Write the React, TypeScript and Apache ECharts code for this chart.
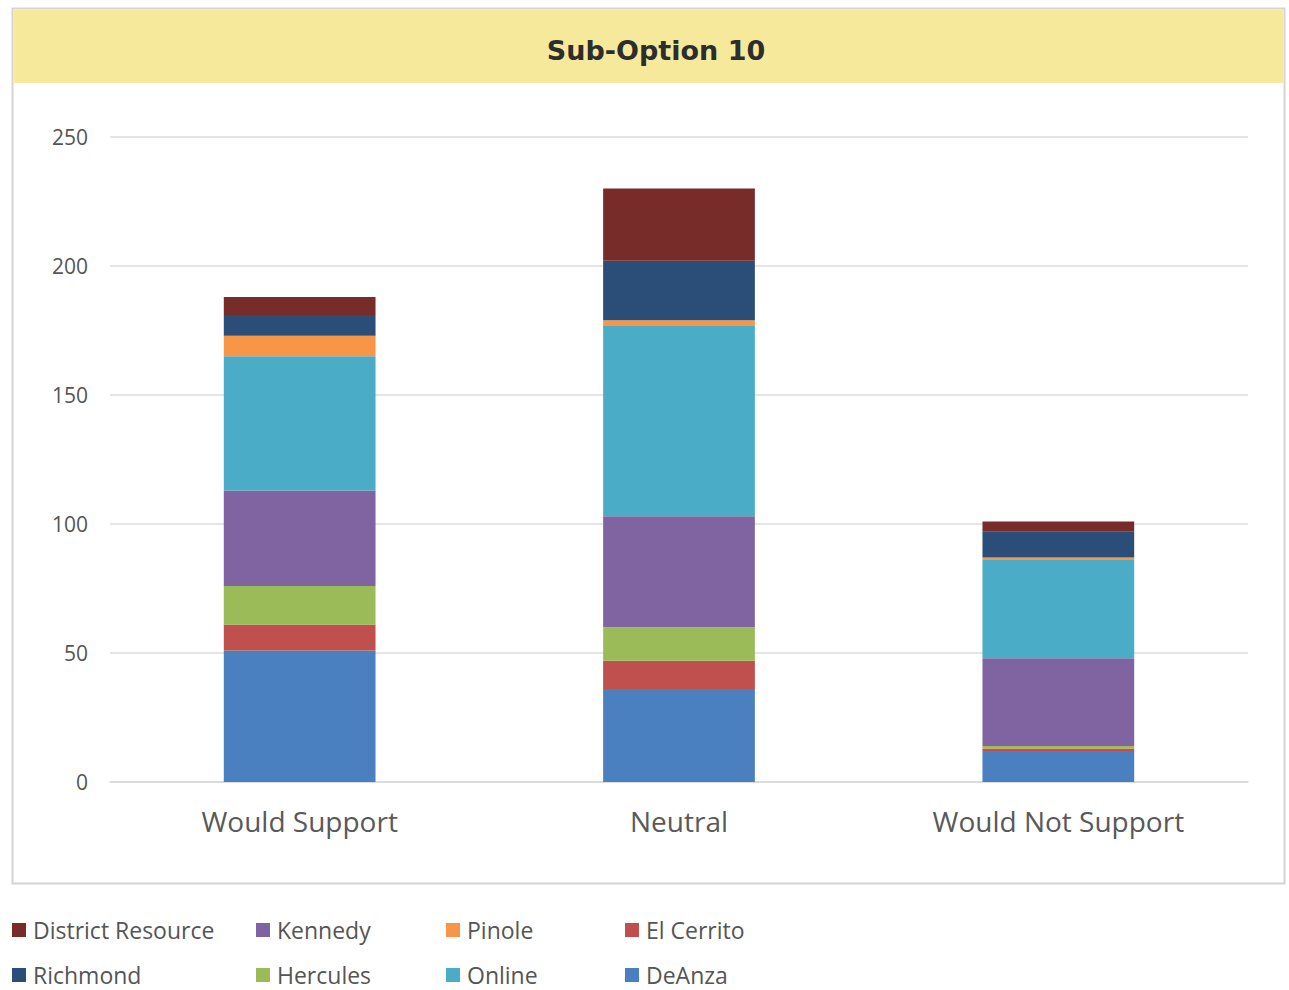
import React, { useEffect, useRef } from "react";
import * as echarts from "echarts";

const categories = ["Would Support", "Neutral", "Would Not Support"];
const seriesNames = ["DeAnza", "El Cerrito", "Hercules", "Kennedy", "Online", "Pinole", "Richmond", "District Resource"];
const deAnza = [51, 36, 12];
const elCerrito = [10, 11, 1];
const hercules = [15, 13, 1];
const kennedy = [37, 43, 34];
const online = [52, 74, 38];
const pinole = [8, 2, 1];
const richmond = [8, 23, 10];
const districtResource = [7, 28, 4];
const yTicks = [0, 50, 100, 150, 200, 250];
const colors = ["#4a7fc0", "#c0504d", "#9bbb59", "#8064a2", "#4bacc8", "#f79646", "#2a4e78", "#772c2a"];
const legendColumns = [
  ["District Resource", "Richmond"],
  ["Kennedy", "Hercules"],
  ["Pinole", "Online"],
  ["El Cerrito", "DeAnza"],
];
const legendLefts = [12, 256, 446, 625];

const FONT = "'Open Sans', 'Noto Sans', sans-serif";

export default function App() {
  const ref = useRef<HTMLDivElement>(null);
  useEffect(() => {
    const chart = echarts.init(ref.current!, null, { renderer: "svg" });
    const data = [deAnza, elCerrito, hercules, kennedy, online, pinole, richmond, districtResource];
    chart.setOption({
      animation: false,
      backgroundColor: "#ffffff",
      textStyle: { fontFamily: FONT },
      graphic: [
        { type: "rect", shape: { x: 12.5, y: 8.5, width: 1272, height: 875 }, style: { fill: "#ffffff", stroke: "#d4d4d4", lineWidth: 2 }, z: -10 },
        { type: "rect", shape: { x: 14, y: 10, width: 1269, height: 73 }, style: { fill: "#f7e99b" }, z: -9 },
      ],
      title: {
        text: "Sub-Option 10",
        left: 656,
        top: 33,
        textAlign: "center",
        padding: 0,
        textStyle: { fontFamily: "'DejaVu Sans', sans-serif", fontSize: 27, fontWeight: "bold", color: "#2d2d2d", lineHeight: 34 },
      },
      legend: legendColumns.map((col, i) => ({
        orient: "vertical",
        left: legendLefts[i],
        top: 918,
        data: col,
        itemWidth: 14,
        itemHeight: 14,
        itemGap: 21,
        icon: "rect",
        padding: 0,
        textStyle: { fontFamily: FONT, fontSize: 23, color: "#555555", padding: [0, 0, 0, 2], lineHeight: 24 },
        selectedMode: false,
      })),
      grid: { left: 110, right: 41, top: 137, bottom: 208, containLabel: false },
      xAxis: {
        type: "category",
        data: categories,
        axisLine: { show: true, lineStyle: { color: "#d9d9d9", width: 1.5 } },
        axisTick: { show: false },
        axisLabel: { fontFamily: FONT, fontSize: 28, color: "#595959", margin: 25 },
      },
      yAxis: {
        type: "value",
        min: yTicks[0],
        max: yTicks[yTicks.length - 1],
        interval: 50,
        axisLine: { show: false },
        axisTick: { show: false },
        splitLine: { lineStyle: { color: "#dcdcdc", width: 1.5 } },
        axisLabel: { fontFamily: FONT, fontSize: 21, color: "#555555", margin: 22 },
      },
      series: seriesNames.map((name, i) => ({
        name,
        type: "bar",
        stack: "total",
        data: data[i],
        barWidth: "40%",
        itemStyle: { color: colors[i] },
      })),
    });
    return () => chart.dispose();
  }, []);
  return <div ref={ref} style={{ position: "absolute", left: 0, top: 0, width: 1289, height: 990 }} />;
}
